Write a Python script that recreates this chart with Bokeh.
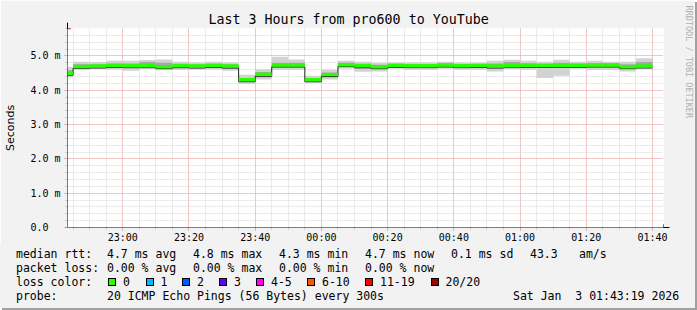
import pandas as pd
from bokeh.plotting import figure
from bokeh.layouts import column
from bokeh.models import (Range1d, FixedTicker, Arrow, NormalHead, Title, Div,
                          DatetimeTickFormatter)
from bokeh.embed import file_html
from bokeh.resources import INLINE

# ---------------- data ----------------
title_text = "Last 3 Hours from pro600 to YouTube"
start_time = "2026-01-02 22:43:19"
end_time = "2026-01-03 01:43:19"
bin_ends = pd.date_range("2026-01-02 22:45", "2026-01-03 01:40", freq="5min")  # 36 bins

# median rtt per 5-min bin (ms)
median_ms = [4.49, 4.69, 4.70, 4.72, 4.71, 4.71, 4.68, 4.71, 4.70, 4.72,
             4.70, 4.30, 4.46, 4.73, 4.73, 4.30, 4.45, 4.74, 4.71, 4.68,
             4.72, 4.71, 4.71, 4.73, 4.71, 4.72, 4.70, 4.71, 4.72, 4.72,
             4.72, 4.72, 4.73, 4.73, 4.68, 4.70]
# smoke: min / max of the pings
smoke_lo = [4.37, 4.60, 4.62, 4.60, 4.57, 4.62, 4.59, 4.59, 4.60, 4.60,
            4.57, 4.18, 4.31, 4.60, 4.60, 4.21, 4.31, 4.63, 4.54, 4.55,
            4.63, 4.60, 4.60, 4.63, 4.60, 4.59, 4.55, 4.63, 4.59, 4.36,
            4.42, 4.63, 4.59, 4.59, 4.55, 4.63]
smoke_hi = [4.68, 4.83, 4.82, 4.86, 4.86, 4.88, 4.90, 4.83, 4.81, 4.83,
            4.81, 4.45, 4.61, 4.98, 4.90, 4.42, 4.60, 4.86, 4.83, 4.80,
            4.81, 4.81, 4.81, 4.83, 4.81, 4.81, 4.86, 4.89, 4.86, 4.83,
            4.89, 4.83, 4.86, 4.83, 4.83, 4.93]
# denser core of the smoke
core_lo = [4.42, 4.64, 4.65, 4.66, 4.64, 4.66, 4.63, 4.64, 4.65, 4.66,
           4.62, 4.24, 4.38, 4.66, 4.66, 4.25, 4.38, 4.68, 4.62, 4.61,
           4.67, 4.65, 4.65, 4.67, 4.65, 4.65, 4.63, 4.66, 4.65, 4.65,
           4.66, 4.67, 4.66, 4.66, 4.62, 4.66]
core_hi = [4.58, 4.76, 4.75, 4.78, 4.78, 4.82, 4.80, 4.77, 4.75, 4.77,
           4.75, 4.36, 4.53, 4.80, 4.80, 4.36, 4.52, 4.80, 4.77, 4.74,
           4.77, 4.76, 4.76, 4.78, 4.76, 4.76, 4.78, 4.82, 4.79, 4.77,
           4.80, 4.78, 4.79, 4.78, 4.76, 4.82]

y_ticks = [0, 1, 2, 3, 4, 5]
y_tick_labels = ["0.0\u00a0\u00a0", "1.0 m", "2.0 m", "3.0 m", "4.0 m", "5.0 m"]
y_minor = [round(0.2 * k, 1) for k in range(1, 30)]
x_major = pd.date_range("2026-01-02 23:00", "2026-01-03 01:40", freq="20min")
x_minor = pd.date_range("2026-01-02 22:45", "2026-01-03 01:40", freq="5min")

legend_rows = [
    ["median rtt:", "4.7 ms avg", "4.8 ms max", "4.3 ms min", "4.7 ms now", "0.1 ms sd", "43.3", "am/s"],
    ["packet loss:", "0.00 % avg", "0.00 % max", "0.00 % min", "0.00 % now"],
]
loss_labels = ["0", "1", "2", "3", "4-5", "6-10", "11-19", "20/20"]
loss_colors = ["#26ff00", "#00b8ff", "#0059ff", "#5e00ff", "#ff00ff", "#ff5500", "#ff0000", "#a00000"]
probe_text = "20 ICMP Echo Pings (56 Bytes) every 300s"
date_text = "Sat Jan  3 01:43:19 2026"
watermark = "RRDTOOL / TOBI OETIKER"


def ms(t):
    return float((pd.Timestamp(t) - pd.Timestamp(0)) // pd.Timedelta(milliseconds=1))


t0 = ms(start_time)
t1 = ms(end_time)
edges = [t0] + [ms(t) for t in bin_ends]
lefts = edges[:-1]
rights = edges[1:]

BG = "#f2f2f2"
W = 695
TOP_H = 245
LEG_H = 63

# ---------------- main graph ----------------
p = figure(width=W, height=TOP_H, output_backend="svg", toolbar_location=None,
           x_axis_type="datetime",
           x_range=Range1d(t0, t1), y_range=Range1d(0, 5.8),
           min_border_left=67, min_border_right=28, min_border_top=28, min_border_bottom=17,
           background_fill_color="white", border_fill_color=BG,
           outline_line_color=None)

p.title.text = title_text
p.title.text_font = "DejaVu Sans Mono"
p.title.text_font_size = "13.3px"
p.title.text_font_style = "normal"
p.title.text_color = "black"
p.title.align = "left"
p.title.offset = 141
p.title.standoff = 3

p.xaxis.ticker = FixedTicker(ticks=[ms(t) for t in x_major], minor_ticks=[ms(t) for t in x_minor])
p.xaxis.formatter = DatetimeTickFormatter(minutes="%H:%M", hourmin="%H:%M", hours="%H:%M",
                                          minsec="%H:%M", seconds="%H:%M", days="%H:%M")
p.yaxis.ticker = FixedTicker(ticks=y_ticks, minor_ticks=y_minor)
p.yaxis.major_label_overrides = {v: s for v, s in zip(y_ticks, y_tick_labels)}
for ax in (p.xaxis[0], p.yaxis[0]):
    ax.axis_line_color = None
    ax.major_tick_in = 0
    ax.major_tick_out = 3
    ax.major_tick_line_color = "#f08080"
    ax.minor_tick_in = 0
    ax.minor_tick_out = 2
    ax.minor_tick_line_color = "#c8c8c8"
    ax.major_label_text_font = "DejaVu Sans Mono"
    ax.major_label_text_font_size = "10px"
    ax.major_label_text_color = "black"
p.xaxis.major_label_standoff = 1
p.yaxis.major_label_standoff = 4
p.yaxis.axis_label = "Seconds"
p.yaxis.axis_label_text_font = "DejaVu Sans"
p.yaxis.axis_label_text_font_size = "11px"
p.yaxis.axis_label_text_font_style = "normal"
p.yaxis.axis_label_text_color = "black"
p.yaxis.axis_label_standoff = 10

for g in (p.xgrid[0], p.ygrid[0]):
    g.grid_line_color = "#f4a0a0"
    g.grid_line_alpha = 1.0
    g.grid_line_dash = "1 1"
    g.minor_grid_line_color = "#d6d6d6"
    g.minor_grid_line_dash = "1 1"

# smoke
p.quad(left=lefts, right=rights, bottom=smoke_lo, top=smoke_hi,
       fill_color="#d2d2d2", line_color=None)
p.quad(left=lefts, right=rights, bottom=core_lo, top=core_hi,
       fill_color="#a6a6a6", line_color=None)
# median step line, then the 0 % loss colour band over it
p.step(x=edges, y=[m - 0.05 for m in median_ms] + [median_ms[-1] - 0.05], mode="after",
       line_color="#202020", line_width=1)
p.quad(left=lefts, right=rights, bottom=[m - 0.045 for m in median_ms],
       top=[m + 0.055 for m in median_ms], fill_color=loss_colors[0], line_color=None)

# axis arrows
head = dict(size=6, fill_color="#800000", line_color="#800000")
p.add_layout(Arrow(end=NormalHead(**head), x_start=t0 - 1.5 * 60000, y_start=0,
                   x_end=t1 + 1.8 * 60000, y_end=0, line_color="black", line_width=1))
p.add_layout(Arrow(end=NormalHead(**head), x_start=t0, y_start=-0.12,
                   x_end=t0, y_end=5.97, line_color="black", line_width=1))

# spacer + vertical watermark on the right
p.add_layout(Title(text="\u00a0", text_font_size="1px", standoff=17), "right")
p.add_layout(Title(text=watermark, text_font="DejaVu Sans Mono", text_font_size="8.5px",
                   text_font_style="normal", text_color="#b0b0b0", align="left",
                   offset=-23, standoff=0), "right")

# ---------------- legend block (plain positioned text) ----------------
FONT = "font-family:'DejaVu Sans Mono';font-size:11.5px;color:black;"
row_y = [9, 23, 37, 51]
col_x = [16, 107, 193, 279, 365, 451, 530, 579]
box_x = [108, 145.5, 182, 219, 256, 307, 365, 430.5]


def span(x, cy, txt):
    return (f'<span style="position:absolute;left:{x}px;top:{cy - 7}px;line-height:14px;'
            f'white-space:pre;{FONT}">{txt}</span>')


parts = []
for row, cy in zip(legend_rows, row_y[:2]):
    for txt, cx in zip(row, col_x):
        parts.append(span(cx, cy, txt))
parts.append(span(16, row_y[2], "loss color:"))
for bx, lab, col in zip(box_x, loss_labels, loss_colors):
    parts.append(f'<span style="position:absolute;box-sizing:border-box;left:{bx}px;top:{row_y[2] - 4}px;'
                 f'width:8px;height:8px;background:{col};border:1px solid black;"></span>')
    parts.append(span(bx + 15, row_y[2], lab))
parts.append(span(16, row_y[3], "probe:"))
parts.append(span(107, row_y[3], probe_text))
parts.append(span(513, row_y[3], date_text))

html = (f'<div style="position:relative;width:{W}px;height:{LEG_H}px;background:{BG};margin:0;padding:0;">'
        + "".join(parts) + "</div>")
legend = Div(text=html, width=W, height=LEG_H, margin=0, styles={"background-color": BG})

layout = column(p, legend, spacing=0, styles={"box-shadow": "2px 2px 0 #a0a0a0"})
open("out.html", "w").write(file_html(layout, INLINE))
